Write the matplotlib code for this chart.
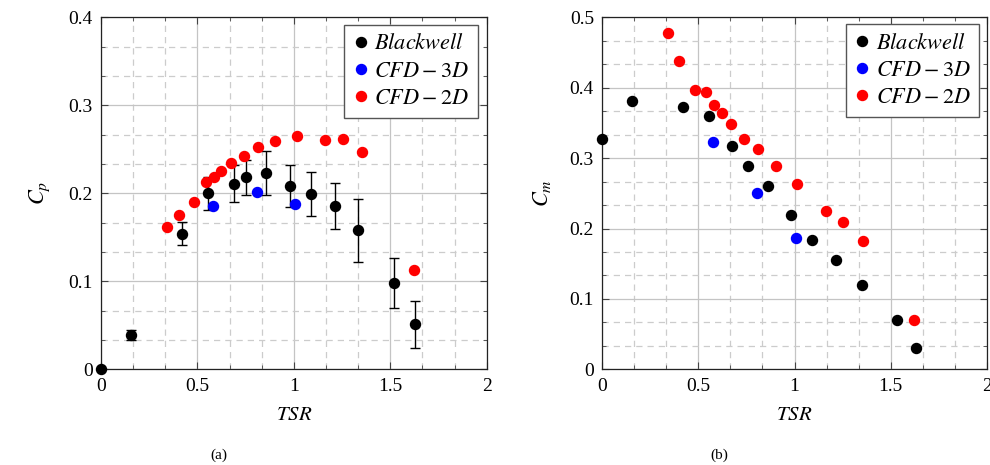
import matplotlib
matplotlib.use("Agg")
import matplotlib.pyplot as plt
from matplotlib.lines import Line2D
from matplotlib.ticker import MultipleLocator

plt.rcParams['font.family'] = ['Liberation Serif', 'DejaVu Serif']
plt.rcParams['mathtext.fontset'] = 'stix'

# (a) power coefficient
bw_tsr_a = [0.0, 0.155, 0.418, 0.557, 0.692, 0.754, 0.854, 0.982, 1.089, 1.212, 1.333, 1.521, 1.629]
bw_cp = [0.0, 0.039, 0.154, 0.200, 0.211, 0.218, 0.223, 0.208, 0.199, 0.186, 0.158, 0.098, 0.051]
bw_cp_err = [0.0, 0.006, 0.013, 0.019, 0.021, 0.020, 0.025, 0.024, 0.025, 0.026, 0.036, 0.028, 0.027]
cfd3_tsr_a = [0.581, 0.807, 1.005]
cfd3_cp = [0.186, 0.2015, 0.1875]
cfd2_tsr_a = [0.344, 0.403, 0.484, 0.543, 0.584, 0.624, 0.674, 0.742, 0.814, 0.902, 1.015, 1.163, 1.253, 1.354, 1.621]
cfd2_cp = [0.162, 0.175, 0.190, 0.2125, 0.2185, 0.2257, 0.234, 0.2424, 0.253, 0.259, 0.2655, 0.261, 0.262, 0.2466, 0.1125]

# (b) moment coefficient
bw_tsr_b = [0.0, 0.156, 0.418, 0.557, 0.676, 0.760, 0.860, 0.983, 1.091, 1.214, 1.350, 1.531, 1.632]
bw_cm = [0.3267, 0.3807, 0.373, 0.360, 0.3167, 0.2888, 0.2608, 0.2196, 0.184, 0.155, 0.120, 0.070, 0.0307]
cfd3_tsr_b = [0.578, 0.805, 1.006]
cfd3_cm = [0.3224, 0.250, 0.186]
cfd2_tsr_b = [0.340, 0.399, 0.481, 0.540, 0.581, 0.623, 0.671, 0.739, 0.812, 0.904, 1.013, 1.162, 1.252, 1.354, 1.621]
cfd2_cm = [0.478, 0.438, 0.3967, 0.3934, 0.376, 0.3645, 0.349, 0.3276, 0.3125, 0.2888, 0.2628, 0.2253, 0.2097, 0.1827, 0.070]

labels = ['$Blackwell$', '$CFD-3D$', '$CFD-2D$']
colors = ['black', 'blue', 'red']

fig = plt.figure(figsize=(9.9, 4.65), dpi=100)
ax1 = fig.add_axes([0.102, 0.2058, 0.3896, 0.757])
ax2 = fig.add_axes([0.6084, 0.2058, 0.3883, 0.757])

ms = 7.2


def style_axis(ax, ymax, ylabel, bbox):
    ax.set_xlim(0, 2)
    ax.set_ylim(0, ymax)
    ax.xaxis.set_major_locator(MultipleLocator(0.5))
    ax.xaxis.set_minor_locator(MultipleLocator(0.5 / 3))
    ax.yaxis.set_major_locator(MultipleLocator(0.1))
    ax.yaxis.set_minor_locator(MultipleLocator(0.1 / 3))
    ax.set_xticks([0, 0.5, 1, 1.5, 2])
    ax.set_xticklabels(['0', '0.5', '1', '1.5', '2'])
    yt = [round(0.1 * i, 1) for i in range(int(round(ymax * 10)) + 1)]
    ax.set_yticks(yt)
    ax.set_yticklabels(['0' if v == 0 else str(v) for v in yt])
    ax.grid(which='major', color='#c4c4c4', linewidth=0.9, linestyle='-')
    ax.grid(which='minor', color='#cccccc', linewidth=0.9, linestyle=(0, (5, 4)))
    ax.set_axisbelow(True)
    ax.tick_params(which='both', direction='in', top=True, right=True, labelsize=14,
                   color='#444444', pad=6)
    ax.tick_params(which='major', length=5, width=0.8)
    ax.tick_params(which='minor', length=3, width=0.6)
    for s in ax.spines.values():
        s.set_color('#222222')
        s.set_linewidth(0.9)
    ax.set_xlabel('$TSR$', fontsize=15, labelpad=8)
    ax.set_ylabel(ylabel, fontsize=16, labelpad=12)
    handles = [Line2D([], [], linestyle='none', marker='o', color=c, ms=ms) for c in colors]
    leg = ax.legend(handles, labels, loc='upper right', bbox_to_anchor=bbox, borderaxespad=0,
                    fancybox=False, edgecolor='#555555', framealpha=1,
                    fontsize=16, handlelength=0.7, handletextpad=0.25,
                    labelspacing=0.3, borderpad=0.4)
    leg.get_frame().set_linewidth(1.0)


# panel (a)
ax1.errorbar(bw_tsr_a, bw_cp, yerr=bw_cp_err, fmt='o', color='black', ms=ms,
             ecolor='black', elinewidth=1.0, capsize=3.6, capthick=1.0,
             clip_on=False, zorder=3)
ax1.plot(cfd3_tsr_a, cfd3_cp, 'o', color='blue', ms=ms, zorder=3)
ax1.plot(cfd2_tsr_a, cfd2_cp, 'o', color='red', ms=ms, zorder=3)
style_axis(ax1, 0.4, '$C_p$', (0.977, 0.978))

# panel (b)
ax2.plot(bw_tsr_b, bw_cm, 'o', color='black', ms=ms, clip_on=False, zorder=3)
ax2.plot(cfd3_tsr_b, cfd3_cm, 'o', color='blue', ms=ms, zorder=3)
ax2.plot(cfd2_tsr_b, cfd2_cm, 'o', color='red', ms=ms, zorder=3)
style_axis(ax2, 0.5, '$C_m$', (0.981, 0.980))

fig.text(219 / 990, 1 - 455 / 465, '(a)', ha='center', va='center', fontsize=11)
fig.text(719 / 990, 1 - 455 / 465, '(b)', ha='center', va='center', fontsize=11)

fig.savefig('out.png', dpi=100)
